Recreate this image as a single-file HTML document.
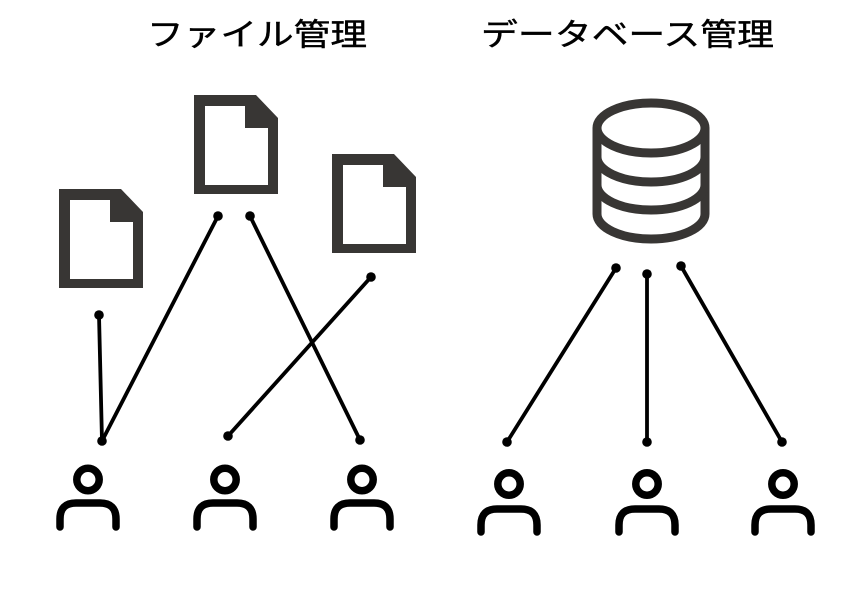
<!DOCTYPE html>
<html><head><meta charset="utf-8"><style>
html,body{margin:0;padding:0;background:#fff;}
svg{display:block;}
</style></head><body>
<svg width="842" height="595" viewBox="0 0 842 595" xmlns="http://www.w3.org/2000/svg">
<defs>
<g id="file">
<path d="M0,0 L62,0 L84,23 L84,99 L0,99 Z M11,11 L11,90 L74,90 L74,33 L51,33 L51,11 Z" fill="#383634" fill-rule="evenodd"/>
</g>
</defs>
<text x="147" y="45.5" font-family="'Liberation Sans','Noto Sans CJK JP',sans-serif" font-size="31" fill="#000" stroke="#000" stroke-width="0.4" textLength="220" lengthAdjust="spacingAndGlyphs">ファイル管理</text>
<text x="481" y="45.5" font-family="'Liberation Sans','Noto Sans CJK JP',sans-serif" font-size="31" fill="#000" stroke="#000" stroke-width="0.4" textLength="293" lengthAdjust="spacingAndGlyphs">データベース管理</text>

<use href="#file" x="59" y="189"/>
<use href="#file" x="194" y="95"/>
<use href="#file" x="332" y="154"/>

<g fill="none" stroke="#383634" stroke-width="9">
<ellipse cx="651" cy="128" rx="54" ry="25"/>
<path d="M597,128 L597,214 M705,128 L705,214"/>
<path d="M597,157 A54,25 0 0 0 705,157"/>
<path d="M597,185 A54,25 0 0 0 705,185"/>
<path d="M597,214 A54,25 0 0 0 705,214"/>
</g>

<g stroke="#000" stroke-width="3.8" stroke-linecap="round">
<line x1="99" y1="315" x2="102" y2="441"/>
<line x1="218" y1="216" x2="102" y2="441"/>
<line x1="250" y1="216" x2="360" y2="440"/>
<line x1="371" y1="277" x2="228" y2="436"/>
<line x1="616" y1="268" x2="507" y2="442"/>
<line x1="647" y1="274" x2="647" y2="442"/>
<line x1="681" y1="266" x2="782" y2="442"/>
</g>
<g fill="#000">
<circle cx="99" cy="315" r="4.8"/><circle cx="102" cy="441" r="4.8"/>
<circle cx="218" cy="216" r="4.8"/><circle cx="250" cy="216" r="4.8"/>
<circle cx="360" cy="440" r="4.8"/><circle cx="371" cy="277" r="4.8"/>
<circle cx="228" cy="436" r="4.8"/>
<circle cx="616" cy="268" r="4.8"/><circle cx="507" cy="442" r="4.8"/>
<circle cx="647" cy="274" r="4.8"/><circle cx="647" cy="442" r="4.8"/>
<circle cx="681" cy="266" r="4.8"/><circle cx="782" cy="442" r="4.8"/>
</g>

<g fill="none" stroke="#000" stroke-width="7.5" stroke-linecap="round">
<circle cx="88" cy="479.5" r="11.2"/>
<path d="M60,527 L60,519 Q60,503 76,503 L100,503 Q116,503 116,519 L116,527"/>
<circle cx="225" cy="479.5" r="11.2"/>
<path d="M197,527 L197,519 Q197,503 213,503 L237,503 Q253,503 253,519 L253,527"/>
<circle cx="362" cy="479.5" r="11.2"/>
<path d="M334,527 L334,519 Q334,503 350,503 L374,503 Q390,503 390,519 L390,527"/>

<circle cx="509" cy="484" r="11.2"/>
<path d="M481,532 L481,525 Q481,509 497,509 L521,509 Q537,509 537,525 L537,532"/>
<circle cx="647" cy="484" r="11.2"/>
<path d="M619,532 L619,525 Q619,509 635,509 L659,509 Q675,509 675,525 L675,532"/>
<circle cx="783" cy="484" r="11.2"/>
<path d="M755,532 L755,525 Q755,509 771,509 L795,509 Q811,509 811,525 L811,532"/>
</g>
</svg>
</body></html>
